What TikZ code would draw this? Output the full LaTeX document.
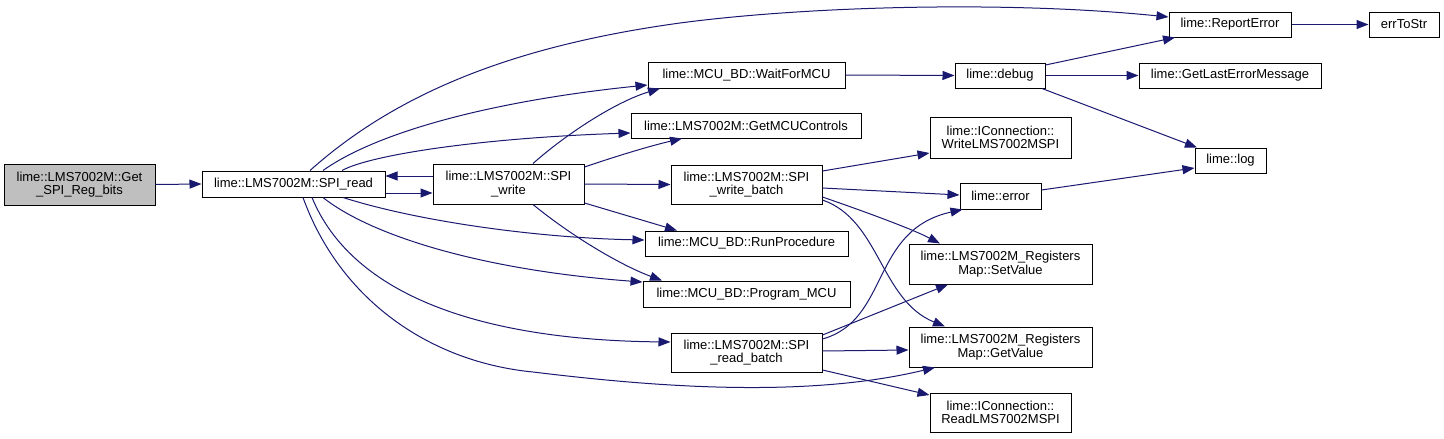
\documentclass[tikz,border=0pt]{standalone}
\usepackage{fontspec}
\setmainfont{Liberation Sans}
\usetikzlibrary{arrows.meta}
\definecolor{edgecol}{HTML}{191970}
\definecolor{grayfill}{HTML}{BFBFBF}
\begin{document}
\begin{tikzpicture}[x=1pt,y=-1pt,
  fn/.style={draw=black, line width=1pt, fill=white, inner sep=0pt, align=center,
    font=\fontsize{13}{13.5}\selectfont},
  call/.style={draw=edgecol, line width=1pt, -{Triangle[length=12pt,width=9pt]}, edgecol}]
\fill[white] (0,0) rectangle (1444,439);
\useasboundingbox (0,0) rectangle (1444,439);
% nodes
\node[fn, fill=grayfill, minimum width=151pt, minimum height=41pt] (get) at (79.5,184.5) {lime::LMS7002M::Get\\\_SPI\_Reg\_bits};
\node[fn, minimum width=183pt, minimum height=26pt] (read) at (293.5,184) {lime::LMS7002M::SPI\_read};
\node[fn, minimum width=151pt, minimum height=40pt] (write) at (508.5,184) {lime::LMS7002M::SPI\\\_write};
\node[fn, minimum width=197pt, minimum height=26pt] (wait) at (746.5,75) {lime::MCU\_BD::WaitForMCU};
\node[fn, minimum width=230pt, minimum height=25pt] (getmcu) at (746,125.5) {lime::LMS7002M::GetMCUControls};
\node[fn, minimum width=151pt, minimum height=39pt] (wbatch) at (746.5,184.5) {lime::LMS7002M::SPI\\\_write\_batch};
\node[fn, minimum width=203pt, minimum height=25pt] (runp) at (746.5,243.5) {lime::MCU\_BD::RunProcedure};
\node[fn, minimum width=207pt, minimum height=26pt] (prog) at (746.5,294) {lime::MCU\_BD::Program\_MCU};
\node[fn, minimum width=151pt, minimum height=39pt] (rbatch) at (746.5,352.5) {lime::LMS7002M::SPI\\\_read\_batch};
\node[fn, minimum width=90pt, minimum height=25pt] (debug) at (1000,75.5) {lime::debug};
\node[fn, minimum width=141pt, minimum height=41pt] (wlms) at (1000.5,137.5) {lime::IConnection::\\WriteLMS7002MSPI};
\node[fn, minimum width=81pt, minimum height=26pt] (error) at (1000.5,196) {lime::error};
\node[fn, minimum width=183pt, minimum height=40pt] (setv) at (1000.5,264) {lime::LMS7002M\_Registers\\Map::SetValue};
\node[fn, minimum width=183pt, minimum height=40pt] (getv) at (1000.5,347) {lime::LMS7002M\_Registers\\Map::GetValue};
\node[fn, minimum width=141pt, minimum height=39pt] (rlms) at (1000.5,412.5) {lime::IConnection::\\ReadLMS7002MSPI};
\node[fn, minimum width=122pt, minimum height=25pt] (report) at (1230,24.5) {lime::ReportError};
\node[fn, minimum width=70pt, minimum height=25pt] (errtostr) at (1404,24.5) {errToStr};
\node[fn, minimum width=182pt, minimum height=25pt] (lasterr) at (1230,75.5) {lime::GetLastErrorMessage};
\node[fn, minimum width=71pt, minimum height=25pt] (log) at (1230.5,160.5) {lime::log};
% edges
\draw[call] (get.east) -- (read.west);
\draw[call] ([shift={(16.5,0)}]read.north) .. controls (400,90) and (520,45) .. (680,23)
  .. controls (800,7) and (1000,0) .. ([shift={(0,-7.5)}]report.west);
\draw[call] ([shift={(29.5,0)}]read.north) .. controls (380,130) and (500,100) .. ([shift={(0,10)}]wait.west);
\draw[call] ([shift={(48.5,0)}]read.north) .. controls (370,155) and (480,138) .. ([shift={(0,7.5)}]getmcu.west);
\draw[call] ([shift={(24.5,0)}]write.north) .. controls (565,135) and (615,102) .. ([shift={(-86.5,0)}]wait.south);
\draw[call] ([shift={(0,-17)}]write.east) .. controls (620,155) and (650,146) .. ([shift={(-64,0)}]getmcu.south);
\draw[call] ([shift={(0,-8)}]write.west) -- ([shift={(0,-8)}]read.east);
\draw[call] ([shift={(0,9)}]read.east) -- ([shift={(0,9)}]write.west);
\draw[call] (write.east) -- (wbatch.west);
\draw[call] ([shift={(0,19)}]write.east) -- ([shift={(-69.5,0)}]runp.north);
\draw[call] ([shift={(24.5,0)}]write.south) .. controls (570,235) and (620,265) .. ([shift={(-84.5,0)}]prog.north);
\draw[call] ([shift={(49.5,0)}]read.south) .. controls (420,222) and (540,238) .. ([shift={(0,-3.5)}]runp.west);
\draw[call] ([shift={(29.5,0)}]read.south) .. controls (370,235) and (480,270) .. ([shift={(0,-12)}]prog.west);
\draw[call] ([shift={(18.5,0)}]read.south) .. controls (350,290) and (470,340) .. ([shift={(0,-10.5)}]rbatch.west);
\draw[call] ([shift={(9.5,0)}]read.south) .. controls (340,300) and (430,362) .. (533,372)
  .. controls (640,385) and (800,400) .. ([shift={(-65.5,0)}]getv.south);
\draw[call] ([shift={(0,-13.5)}]wbatch.east) -- ([shift={(0,15.5)}]wlms.west);
\draw[call] ([shift={(0,3.5)}]wbatch.east) -- ([shift={(0,-1)}]error.west);
\draw[call] ([shift={(0,12.5)}]wbatch.east) .. controls (860,210) and (910,228) .. ([shift={(-60.5,0)}]setv.north);
\draw[call] ([shift={(0,15.5)}]wbatch.east) .. controls (880,220) and (880,300) .. ([shift={(-55.5,0)}]getv.north);
\draw[call] ([shift={(0,-13.5)}]rbatch.east) .. controls (890,320) and (870,230) .. ([shift={(-38,0)}]error.south);
\draw[call] ([shift={(0,-17.5)}]rbatch.east) -- ([shift={(-52.5,0)}]setv.south);
\draw[call] ([shift={(0,-1.5)}]rbatch.east) -- ([shift={(0,3)}]getv.west);
\draw[call] ([shift={(0,17.5)}]rbatch.east) -- ([shift={(0,-17.5)}]rlms.west);
\draw[call] (wait.east) -- (debug.west);
\draw[call] ([shift={(0,-10.5)}]debug.east) -- ([shift={(-55,0)}]report.south);
\draw[call] (debug.east) -- (lasterr.west);
\draw[call] ([shift={(42,0)}]debug.south) -- ([shift={(-33.5,0)}]log.north);
\draw[call] ([shift={(0,-6)}]error.east) -- ([shift={(0,7.5)}]log.west);
\draw[call] (report.east) -- (errtostr.west);
\end{tikzpicture}
\end{document}
